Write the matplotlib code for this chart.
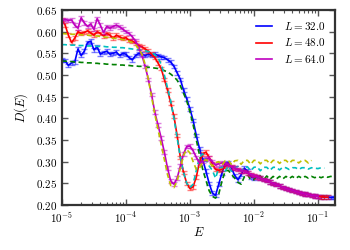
import numpy as np
import matplotlib
matplotlib.use("Agg")
import matplotlib.pyplot as plt
from matplotlib.colors import to_rgba
from matplotlib.ticker import FuncFormatter, FixedLocator

plt.rcParams['mathtext.fontset'] = 'cm'
plt.rcParams['font.family'] = 'serif'

# energy grid, 20 points per decade
E = np.logspace(-5, -0.75, 86)

# common high-energy tail (i = 53 .. 85)
tail = [0.288, 0.285, 0.282, 0.279, 0.277, 0.274, 0.271, 0.268, 0.265, 0.262,
        0.259, 0.256, 0.253, 0.250, 0.247, 0.244, 0.241, 0.238, 0.236, 0.234,
        0.231, 0.229, 0.227, 0.225, 0.224, 0.222, 0.221, 0.220, 0.219, 0.218,
        0.218, 0.217, 0.217]

D_32 = [0.535, 0.533, 0.522, 0.528, 0.530, 0.560, 0.545, 0.555, 0.575, 0.578,
        0.558, 0.565, 0.548, 0.552, 0.555, 0.548, 0.550, 0.553, 0.545, 0.550,
        0.548, 0.540, 0.535, 0.545, 0.550, 0.548, 0.545, 0.548, 0.545, 0.548,
        0.545, 0.542, 0.540, 0.535, 0.530, 0.520, 0.505, 0.490, 0.465, 0.445,
        0.422, 0.395, 0.360, 0.330, 0.305, 0.278, 0.250, 0.228, 0.222, 0.248,
        0.274, 0.295, 0.298, 0.285, 0.268, 0.258, 0.270, 0.285, 0.278, 0.265,
        0.262, 0.266, 0.262] + tail[10:]

D_48 = [0.628, 0.615, 0.592, 0.575, 0.585, 0.600, 0.596, 0.598, 0.602, 0.597,
        0.592, 0.600, 0.596, 0.590, 0.596, 0.592, 0.585, 0.592, 0.588, 0.584,
        0.586, 0.580, 0.578, 0.574, 0.568, 0.565, 0.560, 0.555, 0.548, 0.540,
        0.528, 0.515, 0.490, 0.465, 0.435, 0.405, 0.360, 0.310, 0.275, 0.250,
        0.238, 0.242, 0.265, 0.300, 0.318, 0.322, 0.310, 0.295, 0.282, 0.280,
        0.282, 0.290, 0.292] + tail[:-2]

D_64 = [0.625, 0.628, 0.626, 0.627, 0.615, 0.608, 0.632, 0.620, 0.612, 0.618,
        0.605, 0.630, 0.615, 0.598, 0.612, 0.608, 0.612, 0.615, 0.611, 0.606,
        0.600, 0.596, 0.588, 0.578, 0.562, 0.545, 0.520, 0.490, 0.455, 0.415,
        0.385, 0.355, 0.322, 0.285, 0.255, 0.248, 0.262, 0.290, 0.318, 0.335,
        0.336, 0.325, 0.310, 0.297, 0.300, 0.306, 0.308, 0.300, 0.292, 0.295,
        0.297, 0.296, 0.293] + tail[:-5]

# theory curves
T_32 = [0.532, 0.532, 0.531, 0.531, 0.530, 0.530, 0.529, 0.529, 0.528, 0.528,
        0.527, 0.527, 0.526, 0.526, 0.525, 0.525, 0.524, 0.524, 0.523, 0.523,
        0.522, 0.522, 0.521, 0.521, 0.520, 0.520, 0.519, 0.518, 0.517, 0.516,
        0.515, 0.513, 0.510, 0.507, 0.502, 0.496, 0.488, 0.475, 0.458, 0.440,
        0.415, 0.385, 0.350, 0.315, 0.282, 0.257, 0.233, 0.220, 0.216, 0.225,
        0.255, 0.278, 0.280, 0.270, 0.262, 0.252, 0.248, 0.265, 0.270, 0.258,
        0.258, 0.268, 0.267, 0.258, 0.267, 0.259, 0.266, 0.260, 0.266, 0.260,
        0.266, 0.261, 0.266, 0.261, 0.266, 0.262, 0.266, 0.262, 0.266, 0.263,
        0.266, 0.263, 0.266, 0.264, 0.266, 0.265]

T_48 = [0.570, 0.570, 0.569, 0.569, 0.569, 0.568, 0.568, 0.568, 0.567, 0.567,
        0.567, 0.566, 0.566, 0.566, 0.565, 0.565, 0.564, 0.564, 0.563, 0.563,
        0.562, 0.561, 0.560, 0.559, 0.558, 0.557, 0.556, 0.554, 0.552, 0.547,
        0.540, 0.525, 0.500, 0.470, 0.440, 0.400, 0.355, 0.310, 0.275, 0.250,
        0.240, 0.248, 0.280, 0.310, 0.318, 0.305, 0.290, 0.280, 0.262, 0.285,
        0.288, 0.278, 0.290, 0.278, 0.287, 0.289, 0.278, 0.287, 0.288, 0.279,
        0.287, 0.288, 0.279, 0.287, 0.287, 0.280, 0.287, 0.287, 0.281, 0.287,
        0.286, 0.282, 0.286, 0.286, 0.282, 0.286, 0.286, 0.283, 0.286, 0.285,
        0.284, 0.286, 0.285]

T_64 = [0.596, 0.595, 0.595, 0.594, 0.594, 0.593, 0.593, 0.592, 0.592, 0.591,
        0.590, 0.590, 0.589, 0.588, 0.587, 0.586, 0.585, 0.584, 0.583, 0.582,
        0.580, 0.578, 0.575, 0.570, 0.560, 0.548, 0.525, 0.490, 0.450, 0.410,
        0.375, 0.340, 0.305, 0.270, 0.245, 0.240, 0.255, 0.285, 0.315, 0.328,
        0.320, 0.300, 0.282, 0.285, 0.300, 0.305, 0.298, 0.290, 0.298, 0.300,
        0.292, 0.302, 0.303, 0.293, 0.302, 0.303, 0.294, 0.303, 0.303, 0.294,
        0.303, 0.303, 0.295, 0.303, 0.303, 0.295, 0.303, 0.303, 0.296, 0.303,
        0.303, 0.296, 0.303, 0.303, 0.297, 0.303, 0.303, 0.297, 0.303]

sizes = [32.0, 48.0, 64.0]
data = [D_32, D_48, D_64]
theory = [T_32, T_48, T_64]
err = 0.004

fig = plt.figure(figsize=(3.5, 2.5), dpi=100)
ax = fig.add_axes([0.177, 0.18, 0.78, 0.78])

for L, d, t, c, tc in zip(sizes, data, theory, ['b', 'r', 'm'], ['g', 'c', 'y']):
    ax.errorbar(E[:len(d)], d, yerr=err, fmt='none', ecolor=to_rgba(c, 0.5),
                elinewidth=1.0, capsize=2.2, capthick=1.0)
    ax.plot(E[:len(d)], d, color=c, lw=1.2, label=r'$L = %.1f$' % L)
    ax.plot(E[:len(t)], t, color=tc, lw=1.2, ls=(0, (3, 2)))

ax.set_xscale('log')
ax.set_xlim(1e-5, 0.1845)
ax.set_ylim(0.2, 0.65)
ax.yaxis.set_major_locator(FixedLocator(np.arange(0.20, 0.651, 0.05)))
ax.yaxis.set_major_formatter(FuncFormatter(lambda v, p: r'$%.2f$' % v))
ax.xaxis.set_major_formatter(FuncFormatter(lambda v, p: r'$10^{%d}$' % round(np.log10(v))))

ax.tick_params(which='both', direction='in', top=True, right=True,
               labelsize=8, color='#555555')
ax.tick_params(which='major', length=4, width=1)
ax.tick_params(which='minor', length=2, width=0.8)
for s in ax.spines.values():
    s.set_linewidth(1.6)
    s.set_color('#333333')

ax.set_xlabel(r'$E$', fontsize=9, labelpad=1)
ax.set_ylabel(r'$D(E)$', fontsize=9, labelpad=4)
ax.legend(loc='upper right', frameon=False, fontsize=8, handlelength=1.5,
          handletextpad=1.0, labelspacing=0.4)

fig.savefig('out.png', dpi=100)
